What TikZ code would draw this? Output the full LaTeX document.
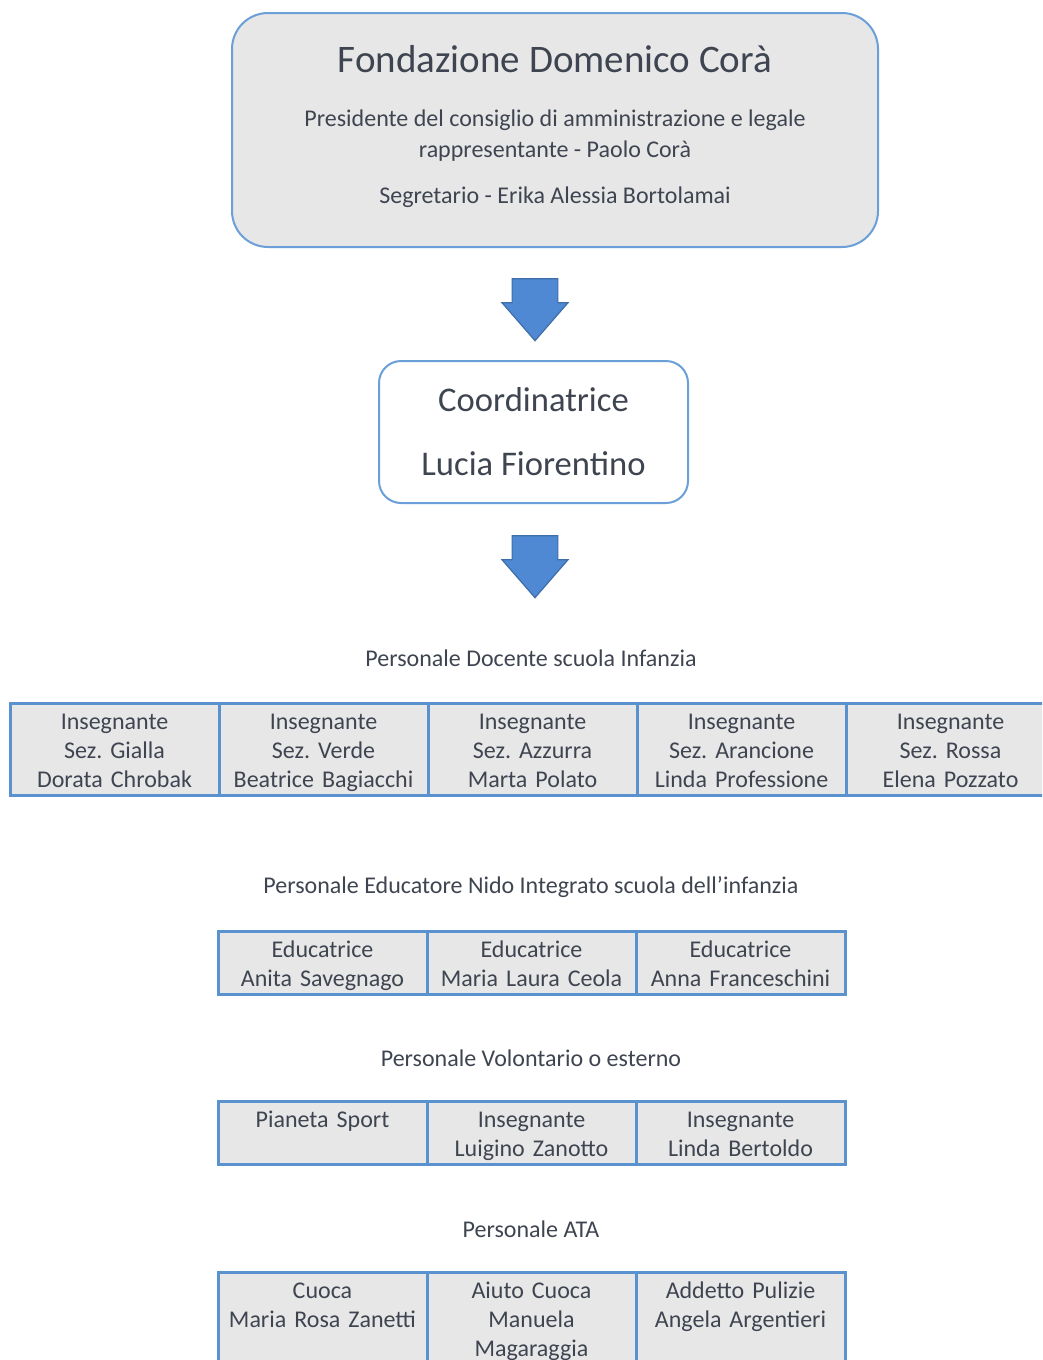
\documentclass[tikz,border=0pt]{standalone}
\usepackage{fontspec}
\setmainfont{Carlito}
\usetikzlibrary{positioning,shapes.arrows}

\definecolor{boxblue}{HTML}{6A9FD8}
\definecolor{tableblue}{HTML}{5A92D0}
\definecolor{arrowblue}{HTML}{4F89D3}
\definecolor{arrowedge}{HTML}{3E6EA8}
\definecolor{boxgray}{HTML}{E7E7E8}
\definecolor{textgray}{HTML}{3F4550}

\tikzset{
  orgbox/.style={draw=boxblue, line width=2pt, align=center, text=textgray},
  cell/.style={draw=tableblue, fill=boxgray, line width=3pt, outer sep=0pt,
    minimum width=209pt, inner sep=0pt, text width=205pt, align=center,
    text=textgray, font=\fontsize{24}{29}\selectfont\frenchspacing,
    execute at begin node=\rule{0pt}{23.5pt},
    execute at end node=\rule[-5.5pt]{0pt}{5.5pt}},
  heading/.style={text=textgray, font=\fontsize{24}{29}\selectfont},
  blockarrow/.style={single arrow, shape border rotate=270, fill=arrowblue,
    draw=arrowedge, line width=1.2pt, minimum height=62pt, minimum width=66pt,
    inner sep=15.5pt, single arrow tip angle=82}
}

\begin{document}
\begin{tikzpicture}[x=1pt,y=-1pt]
  \useasboundingbox (0,0) rectangle (1042,1360);
  \clip (0,0) rectangle (1042,1360);

  % top of the chart
  \node[orgbox, fill=boxgray, rounded corners=36pt, minimum width=646pt,
    minimum height=234pt, font=\fontsize{24}{31}\selectfont] (fond) at (555,130)
    {{\fontsize{39}{44}\selectfont Fondazione Domenico Corà}\\[23pt]
     Presidente del consiglio di amministrazione e legale\\
     rappresentante - Paolo Corà\\[15pt]
     Segretario - Erika Alessia Bortolamai\\[-20pt]\mbox{}};
  \node[blockarrow] (arrTop) at (535,296.5) {};
  \node[orgbox, fill=white, rounded corners=22pt, minimum width=309pt,
    minimum height=142pt, font=\fontsize{34.6}{64}\selectfont] (coord) at (533.5,432)
    {Coordinatrice\\Lucia Fiorentino};
  \node[blockarrow] (arrMid) at (535,553.5) {};

  % Docenti
  \node[heading] (hDoc) at (531,658) {Personale Docente scuola Infanzia};
  \node[cell, minimum height=92pt] (doc1) at (114.5,749)
    {Insegnante\\Sez. Gialla\\Dorata Chrobak};
  \node[cell, minimum height=92pt, right=0pt of doc1] (doc2)
    {Insegnante\\Sez. Verde\\Beatrice Bagiacchi};
  \node[cell, minimum height=92pt, right=0pt of doc2] (doc3)
    {Insegnante\\Sez. Azzurra\\Marta Polato};
  \node[cell, minimum height=92pt, right=0pt of doc3] (doc4)
    {Insegnante\\Sez. Arancione\\Linda Professione};
  \node[cell, minimum height=92pt, right=0pt of doc4] (doc5)
    {Insegnante\\Sez. Rossa\\Elena Pozzato};

  % Educatori
  \node[heading] (hEdu) at (531,887) {Personale Educatore Nido Integrato scuola dell’infanzia};
  \node[cell, minimum height=63pt] (edu1) at (322.5,962.5)
    {Educatrice\\Anita Savegnago};
  \node[cell, minimum height=63pt, right=0pt of edu1] (edu2)
    {Educatrice\\Maria Laura Ceola};
  \node[cell, minimum height=63pt, right=0pt of edu2] (edu3)
    {Educatrice\\Anna Franceschini};

  % Volontari
  \node[heading] (hVol) at (531,1058) {Personale Volontario o esterno};
  \node[cell, minimum height=63pt] (vol1) at (322.5,1133)
    {Pianeta Sport\\\mbox{}};
  \node[cell, minimum height=63pt, right=0pt of vol1] (vol2)
    {Insegnante\\Luigino Zanotto};
  \node[cell, minimum height=63pt, right=0pt of vol2] (vol3)
    {Insegnante\\Linda Bertoldo};

  % ATA
  \node[heading] (hAta) at (531,1229) {Personale ATA};
  \node[cell, minimum height=92pt] (ata1) at (322.5,1318)
    {Cuoca\\Maria Rosa Zanetti\\\mbox{}};
  \node[cell, minimum height=92pt, right=0pt of ata1] (ata2)
    {Aiuto Cuoca\\Manuela\\Magaraggia};
  \node[cell, minimum height=92pt, right=0pt of ata2] (ata3)
    {Addetto Pulizie\\Angela Argentieri\\\mbox{}};
\end{tikzpicture}
\end{document}
